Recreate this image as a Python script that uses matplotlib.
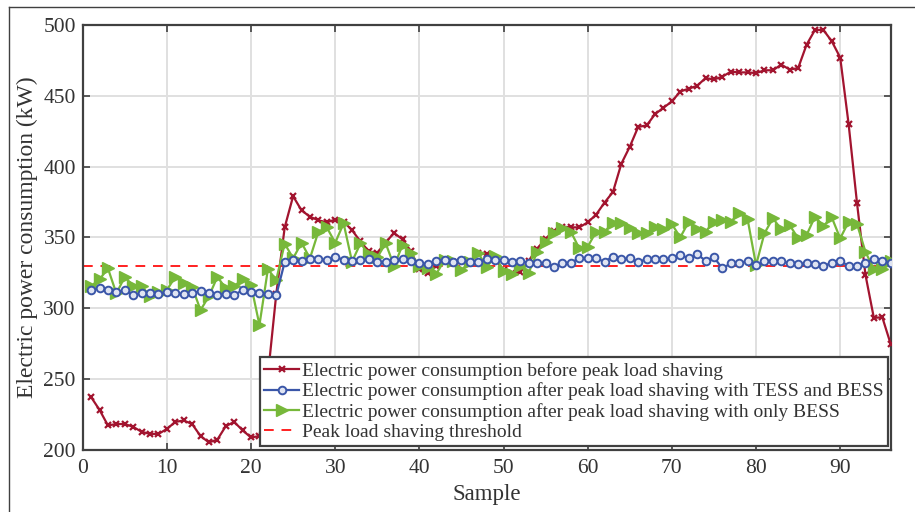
import matplotlib
matplotlib.use("Agg")
import matplotlib.pyplot as plt
from matplotlib.lines import Line2D
import numpy as np

plt.rcParams['font.family'] = ['Liberation Serif', 'DejaVu Serif']
plt.rcParams['mathtext.fontset'] = 'stix'

samples = list(range(1, 97))

before = [237, 228, 217, 218, 218, 216, 212.5, 211, 211, 214.5,
          219.5, 220.5, 218, 209.5, 205, 207, 216.5, 219.5, 213.5, 208.5,
          209.5, 252, 310, 357, 379, 369, 364.5, 362, 360.5, 362.5,
          361, 355, 347, 340, 339, 346.5, 353, 348.5, 340, 327.5,
          325, 329.5, 334, 332.5, 333, 331.5, 339, 338, 334.5, 327,
          324.5, 325.5, 333.5, 342, 349, 354.5, 357.5, 357, 357, 360.5,
          366, 374.5, 382, 402, 414, 428, 429, 437, 441.5, 446,
          453, 455, 457, 462.5, 461.5, 463.5, 467, 466.5, 466.5, 466,
          468, 468, 472, 468.5, 469.5, 486, 496.5, 496.5, 488.5, 477,
          430, 374, 323.5, 293, 293.5, 274.5]

tess_bess = [312.7, 313.9, 312.7, 311.5, 312.7, 309.1, 310.3, 310.3, 309.8, 311.5,
             310.3, 309.8, 310.3, 312.2, 310.8, 309.1, 309.8, 309.1, 312.7, 311.5,
             310.3, 309.8, 309.1, 332.5, 334, 333.4, 334.3, 334.3, 333.9, 336.3,
             333.9, 333.4, 333.9, 334.3, 332.5, 332.5, 333.9, 334.3, 333.2, 331.5,
             331, 332.9, 333.9, 332.5, 333.9, 332.5, 332.7, 334.3, 333.9, 333.9,
             332.8, 333.2, 332, 331.5, 331.5, 329.2, 332, 332, 335.1, 335.1,
             335.1, 332.7, 336.3, 334.4, 335.1, 332.7, 334.4, 334.4, 334.4, 335.1,
             337.5, 335.1, 338.1, 333.4, 335.8, 328, 331.5, 331.5, 333.4, 330.3,
             333.4, 333.4, 333.4, 331.5, 331, 331.5, 331, 329.6, 332, 333.4,
             329.6, 329.6, 332, 334.4, 333.4, 332]

only_bess = [315.5, 320.2, 328, 310.3, 322, 315.5, 315.5, 308.4, 311.5, 312.7,
             322, 317.4, 315, 298.5, 308.4, 322, 313.9, 315.5, 320.2, 316.2,
             288, 327.3, 320, 345.5, 335.1, 346.1, 335.1, 353.9, 357, 346.1,
             359.8, 332.7, 345.7, 338.1, 335.8, 345.7, 329.6, 344.6, 338.6, 329.6,
             328, 324, 333.9, 333.4, 326.8, 332.7, 339, 328.7, 336.8, 326,
             324, 329.6, 325, 339.7, 346.8, 353.2, 356.3, 353.9, 342.1, 343.3,
             353.9, 353.9, 360.3, 359.8, 356.3, 352.8, 353.2, 357, 355.6, 359.3,
             349.9, 361, 355.6, 353.9, 361, 362.2, 361, 366.9, 362.7, 330.3,
             352.8, 363.4, 355.6, 358.6, 349.2, 351.5, 364.5, 358, 364, 349.2,
             361, 359.3, 339.7, 327.3, 327.3, 333.4]

threshold = 330

labels = ["Electric power consumption before peak load shaving",
          "Electric power consumption after peak load shaving with TESS and BESS",
          "Electric power consumption after peak load shaving with only BESS",
          "Peak load shaving threshold"]

x_ticks = [0, 10, 20, 30, 40, 50, 60, 70, 80, 90]
y_ticks = [200, 250, 300, 350, 400, 450, 500]

RED = '#A2142F'
BLUE = '#3A56A8'
GREEN = '#77B83A'
DARK = '#404040'
TXT = '#333333'

fig = plt.figure(figsize=(9.15, 5.12), dpi=100)
ax = fig.add_axes([82.7/915, 1-449.5/512, (890.7-82.7)/915, (449.5-25)/512])

ax.plot(samples, before, color=RED, lw=1.6, marker='x', ms=4.5, mew=1.6,
        label=labels[0], zorder=3)
ax.plot(samples, tess_bess, color=BLUE, lw=1.6, marker='o', ms=5.5, mew=1.4,
        mfc='#dfe4f2', label=labels[1], zorder=4)
ax.plot(samples, only_bess, color=GREEN, lw=1.6, marker='>', ms=8, mew=1.0,
        label=labels[2], zorder=3)
ax.plot([0, 96], [threshold, threshold], color='#FF2020', lw=1.4,
        ls=(0, (5, 4)), label=labels[3], zorder=2)

ax.set_xlim(0, 96)
ax.set_ylim(200, 500)
ax.set_xticks(x_ticks)
ax.set_yticks(y_ticks)
ax.grid(True, color='#e0e0e0', lw=1.4)
ax.set_axisbelow(True)
for s in ax.spines.values():
    s.set_color(DARK)
    s.set_linewidth(1.6)
ax.tick_params(direction='in', length=5, width=1.2, color=DARK,
               top=True, right=True, labelsize=15.5, labelcolor=TXT)
ax.tick_params(axis='x', pad=7)
ax.tick_params(axis='y', pad=5)

ax.set_xlabel("Sample", fontsize=16.5, color=TXT, labelpad=4)
ax.set_ylabel("Electric power consumption (kW)", fontsize=17, color=TXT, labelpad=4)

leg = ax.legend(loc='lower right', bbox_to_anchor=(0.997, 0.008),
                borderaxespad=0, fontsize=14, handlelength=1.8,
                handletextpad=0.12, labelspacing=0.14, borderpad=0.25,
                fancybox=False, framealpha=1, edgecolor=DARK)
leg.get_frame().set_linewidth(1.6)
for t in leg.get_texts():
    t.set_color(TXT)

# outer frame (partially visible)
fig.add_artist(Line2D([9/915, 1], [1-7/512, 1-7/512], transform=fig.transFigure,
                      color=DARK, lw=1.0))
fig.add_artist(Line2D([9/915, 9/915], [0, 1-7/512], transform=fig.transFigure,
                      color=DARK, lw=1.0))

fig.savefig("out.png", dpi=100)
